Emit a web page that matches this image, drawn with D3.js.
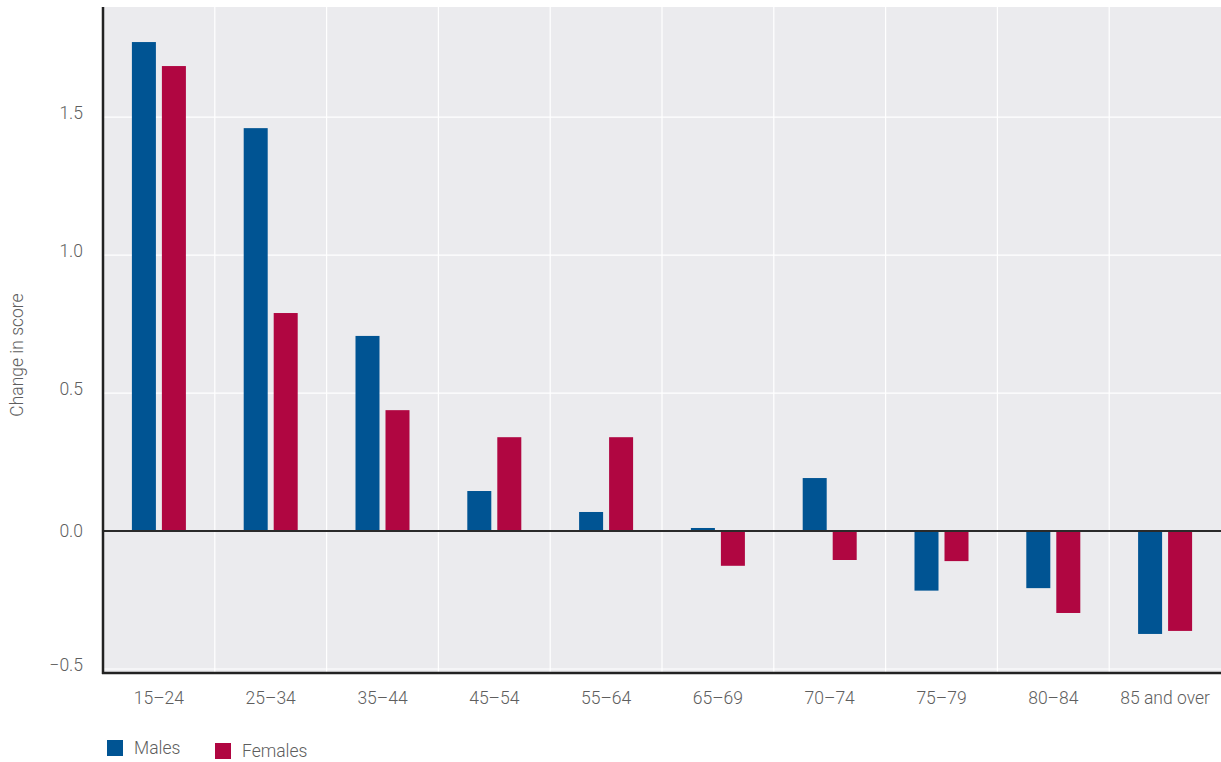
<!DOCTYPE html>
<html>
<head>
<meta charset="utf-8">
<script src="https://cdn.jsdelivr.net/npm/d3@7"></script>
<style>
  html, body { margin: 0; padding: 0; background: #fff; }
  svg { display: block; font-family: Roboto, "Open Sans", sans-serif; }
</style>
</head>
<body>
<svg id="chart" width="1221" height="762"></svg>
<script>
// Change in score by age group and sex
const categories = ["15–24", "25–34", "35–44", "45–54", "55–64", "65–69", "70–74", "75–79", "80–84", "85 and over"];
const males   = [1.772, 1.46, 0.707, 0.145, 0.069, 0.011, 0.192, -0.216, -0.207, -0.373];
const females = [1.685, 0.79, 0.438, 0.34, 0.34, -0.126, -0.105, -0.109, -0.297, -0.362];
const seriesNames = ["Males", "Females"];
const yTicks = [-0.5, 0.0, 0.5, 1.0, 1.5];

const colors = { Males: "#005493", Females: "#b00641" };
const textColor = "#5e5e5e";

const svg = d3.select("#chart");
const plot = { left: 103, right: 1221, top: 7, bottom: 673 };

const x = d3.scaleBand().domain(categories).range([plot.left, plot.right]).padding(0);
const y = d3.scaleLinear().domain([-0.5145, 1.899]).range([plot.bottom, plot.top]);

const barW = 24, barGap = 6;

// plot background
svg.append("rect")
  .attr("x", plot.left).attr("y", plot.top)
  .attr("width", plot.right - plot.left).attr("height", plot.bottom - plot.top)
  .attr("fill", "#ebebee");

// horizontal gridlines
svg.append("g").selectAll("line").data(yTicks.filter(d => d !== 0)).join("line")
  .attr("x1", plot.left).attr("x2", plot.right)
  .attr("y1", d => y(d)).attr("y2", d => y(d))
  .attr("stroke", "#fff").attr("stroke-width", 1.2);

// vertical category separators
svg.append("g").selectAll("line").data(categories.slice(1)).join("line")
  .attr("x1", d => x(d)).attr("x2", d => x(d))
  .attr("y1", plot.top).attr("y2", plot.bottom)
  .attr("stroke", "#fff").attr("stroke-width", 1.2);

// bars
const rows = categories.map((c, i) => ({ cat: c, Males: males[i], Females: females[i] }));
const groups = svg.append("g").selectAll("g").data(rows).join("g")
  .attr("transform", d => `translate(${x(d.cat) + x.bandwidth() / 2},0)`);

seriesNames.forEach((s, si) => {
  groups.append("rect")
    .attr("x", si === 0 ? -(barW + barGap / 2) : barGap / 2)
    .attr("width", barW)
    .attr("y", d => y(Math.max(0, d[s])))
    .attr("height", d => Math.abs(y(d[s]) - y(0)))
    .attr("fill", colors[s]);
});

// zero line
svg.append("line")
  .attr("x1", plot.left).attr("x2", plot.right)
  .attr("y1", y(0)).attr("y2", y(0))
  .attr("stroke", "#2a2a2a").attr("stroke-width", 2);

// axis lines
svg.append("line")
  .attr("x1", plot.left).attr("x2", plot.left)
  .attr("y1", plot.top).attr("y2", plot.bottom + 1)
  .attr("stroke", "#222").attr("stroke-width", 2.5);
svg.append("line")
  .attr("x1", plot.left - 1).attr("x2", plot.right)
  .attr("y1", plot.bottom).attr("y2", plot.bottom)
  .attr("stroke", "#222").attr("stroke-width", 2.5);

// y tick labels
svg.append("g").selectAll("text").data(yTicks).join("text")
  .attr("x", 83)
  .attr("y", d => y(d) - (d === 0 ? 0 : 4))
  .attr("dy", "0.35em")
  .attr("text-anchor", "end")
  .attr("font-size", 17.5)
  .attr("font-weight", 300)
  .attr("fill", textColor)
  .text(d => d3.format(".1f")(d));

// x category labels
svg.append("g").selectAll("text").data(categories).join("text")
  .attr("x", d => x(d) + x.bandwidth() / 2)
  .attr("y", 704)
  .attr("text-anchor", "middle")
  .attr("font-size", 17.5)
  .attr("font-weight", 300)
  .attr("fill", textColor)
  .text(d => d);

// y axis title
svg.append("text")
  .attr("transform", "translate(23,355) rotate(-90)")
  .attr("text-anchor", "middle")
  .attr("font-size", 17.5)
  .attr("font-weight", 300)
  .attr("fill", textColor)
  .text("Change in score");

// legend
const legendPos = [{ x: 107, y: 740 }, { x: 215, y: 743 }];
seriesNames.forEach((s, i) => {
  const p = legendPos[i];
  svg.append("rect").attr("x", p.x).attr("y", p.y).attr("width", 16).attr("height", 16).attr("fill", colors[s]);
  svg.append("text").attr("x", p.x + 27).attr("y", p.y + 14)
    .attr("font-size", 17.5).attr("font-weight", 300).attr("fill", textColor).text(s);
});
</script>
</body>
</html>
